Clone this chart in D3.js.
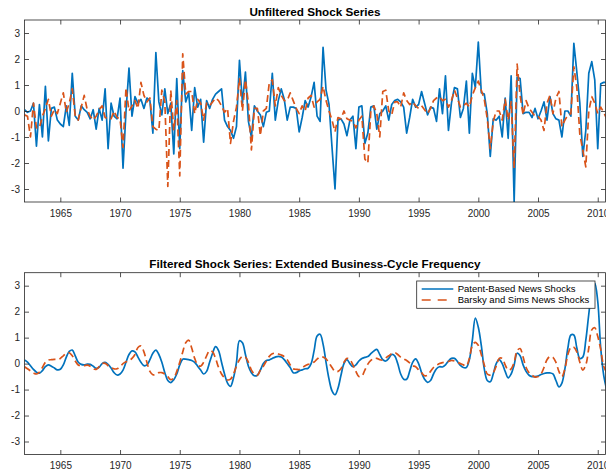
<!DOCTYPE html>
<html>
<head>
<meta charset="utf-8">
<script src="https://cdn.jsdelivr.net/npm/d3@7"></script>
<style>
  body { margin: 0; background: #fff; }
  svg text { font-family: "Liberation Sans", Arial, Helvetica, sans-serif; }
</style>
</head>
<body>
<svg id="chart" width="606" height="473"></svg>
<script>
// Quarterly observations, 1962Q1 .. 2010Q4
const startYear = 1962;

// Unfiltered patent-based news shocks
const patentRaw = [
  0.05, -0.05, 0.0, 0.3,     -1.35, 0.25, -1.0, 0.95,   -1.15, 0.1, 0.15, -0.35,
  -0.5, -0.6, 0.2, -0.55,    1.45, -0.2, -0.35, 0.2,    0.05, -0.05, -0.3, 0.05,
  -0.7, 0.1, -0.35, 0.85,    -1.45, 0.3, -0.2, -0.3,    0.5, -2.2, 0.0, 1.65,
  -0.2, 0.55, 0.3, 0.45,     0.1, 0.5, 0.4, -0.85,      2.25, 0.35, -0.15, 0.85,
  -0.1, 0.3, -1.65, 1.25,    -1.45, 1.55, 0.35, 0.7,    -0.75, 0.9, 0.15, 0.45,
  -1.2, 0.4, 0.1, 0.45,      0.65, 0.75, 0.85, -0.35,   -0.6, -0.75, -1.05, -0.6,
  1.95, 0.3, 1.5, -0.4,      -1.0, 0.2, 0.0, -0.15,     -0.6, -0.05, 0.0, 1.45,
  -0.35, 0.4, 0.85, 0.45,    -0.35, 0.15, 0.15, 0.1,    -0.8, -0.25, 0.4, 0.15,
  0.55, 1.1, -0.2, -0.4,     2.45, 0.8, 0.25, -1.4,     -3.0, -0.35, -0.3, -0.5,
  -0.95, -0.35, -0.2, -1.45, 0.15, 0.2, -1.25, -0.85,   0.15, 0.2, -0.7, -0.1,
  0.0, 0.2, -0.35, 0.25,     0.4, 0.45, 0.35, 0.15,     -0.85, -0.25, 0.45, 0.15,
  0.25, 0.75, 0.3, -0.15,    0.15, 0.1, -0.4, 0.85,     -0.1, 1.35, -0.75, 0.3,
  0.9, 0.85, -0.25, 0.1,     1.15, -0.85, 1.45, 0.9,    2.65, 0.7, 0.65, -0.1,
  -1.75, -0.3, -0.35, -0.2,  -1.0, 0.5, -1.05, 1.35,    -3.5, 1.3, 1.25, -0.1,
  -0.05, -0.05, -0.25, 0.1,  -0.3, 0.0, 0.35, -0.35,    0.55, -0.1, -0.3, -0.35,
  -1.0, 0.0, 0.0, -0.2,      2.6, 1.5, 0.3, -1.75,      -0.75, 1.45, 1.9, 1.2,
  -1.45, 1.05, 1.1, 1.1
];

// Unfiltered Barsky and Sims news shocks
const bsRaw = [
  -0.15, -0.2, -1.0, 0.3,    -0.65, -0.65, -0.2, 0.1,   0.45, -0.2, 0.05, -0.1,
  0.3, 0.7, -0.05, 0.3,      0.85, -0.2, -0.35, 0.15,   0.6, 0.05, -0.2, -0.35,
  -0.2, 0.05, 0.2, -0.25,    -0.3, -0.3, 0.0, -0.25,    -0.3, -1.4, 0.9, 0.0,
  0.2, 0.4, 0.1, 1.1,        0.6, 0.35, 0.5, -0.6,      -0.7, -0.75, 0.8, 0.35,
  -2.9, 0.8, -0.75, 0.4,     -2.5, 2.2, 0.65, 0.75,     0.75, -0.1, 0.45, 0.3,
  -0.35, 0.3, 0.2, 0.35,     0.5, 0.4, 0.2, -0.05,      0.1, -1.25, -0.4, 0.15,
  1.25, 0.0, 1.2, 0.3,       -1.5, 0.1, 0.1, -0.95,     0.0, 0.1, 1.1, 1.2,
  0.2, 0.9, 0.6, 0.4,        0.4, 0.7, 0.4, 0.1,        -0.1, 0.2, 0.0, 0.5,
  0.6, 0.15, 0.35, 0.45,     0.95, 0.4, 0.0, -0.35,     -0.8, -0.25, -0.3, 0.0,
  -0.3, -0.35, -0.4, -0.65,  -0.35, -0.2, -1.85, -2.0,  0.0, 0.2, -0.1, -1.0,
  0.75, 0.8, 0.0, -0.15,     0.35, 0.35, 0.15, 0.7,     0.4, 0.25, 0.35, 0.2,
  0.1, 0.2, 0.05, -0.1,      0.1, 0.4, 0.5, 0.55,       0.4, 0.45, 0.15, 0.4,
  0.8, 0.5, 0.15, 0.2,       0.3, 0.15, 0.6, 0.9,       1.15, 0.8, 0.45, -0.3,
  -1.45, -0.4, 0.0, 0.0,     -0.35, 0.45, -0.35, 0.35,  -2.2, 1.8, 0.6, -0.15,
  0.4, 0.1, -0.05, -0.2,     -0.2, -0.35, -0.75, 0.3,   0.6, -0.1, 0.5, 0.75,
  -0.6, -0.35, -0.15, -0.1,  1.7, 0.9, -0.9, -1.5,      -2.15, 0.0, 0.55, 0.3,
  -0.1, 0.15, -0.05, -0.3
];

// Band-pass filtered patent-based news shocks
const patentFilt = [
  0.14, 0.06, -0.08, -0.22,  -0.33, -0.37, -0.27, -0.12, -0.05, -0.1, -0.17, -0.24,
  -0.22, -0.05, 0.25, 0.47,  0.52, 0.3, 0.05, -0.03,    -0.05, -0.02, -0.03, -0.1,
  -0.18, -0.14, 0.0, 0.05,   -0.03, -0.17, -0.35, -0.44, -0.4, -0.25, 0.05, 0.35,
  0.49, 0.45, 0.25, 0.05,    -0.08, -0.05, 0.15, 0.4,   0.52, 0.35, 0.05, -0.35,
  -0.65, -0.73, -0.62, -0.4, -0.05, 0.17, 0.17, 0.15,   0.12, 0.05, -0.1, -0.25,
  -0.4, -0.3, 0.05, 0.4,     0.65, 0.5, 0.05, -0.4,     -0.75, -0.88, -0.55, 0.05,
  0.88, 0.8, 0.35, -0.1,     -0.35, -0.47, -0.45, -0.25, 0.0, 0.12, 0.14, 0.2,
  0.25, 0.28, 0.25, 0.15,    0.0, -0.15, -0.35, -0.35,  -0.28, -0.24, -0.2, -0.18,
  0.0, 0.5, 1.06, 1.13,      0.75, 0.05, -0.6, -1.05,   -1.2, -0.95, -0.45, 0.0,
  0.15, 0.0, -0.12, -0.05,   0.1, 0.2, 0.24, 0.27,      0.38, 0.48, 0.55, 0.35,
  0.15, 0.1, 0.2, 0.35,      0.3, 0.0, -0.4, -0.6,      -0.6, -0.3, 0.05, 0.18,
  0.0, -0.35, -0.6, -0.72,   -0.65, -0.4, -0.2, -0.12,  -0.13, -0.05, 0.1, 0.2,
  0.2, 0.08, -0.07, -0.15,   -0.15, 0.15, 0.9, 1.75,    1.4, 0.7, -0.2, -0.65,
  -0.7, -0.4, 0.0, 0.15,     0.0, -0.3, -0.55, -0.4,    -0.05, 0.4, 0.3, -0.05,
  -0.3, -0.45, -0.5, -0.5,   -0.48, -0.42, -0.38, -0.36, -0.36, -0.4, -0.65, -0.9,
  -0.75, -0.2, 0.6, 1.1,     1.1, 0.6, 0.2, 0.25,       0.9, 1.9, 2.8, 3.1,
  2.4, 0.6, -0.45, -1.0
];

// Band-pass filtered Barsky and Sims news shocks
const bsFilt = [
  -0.12, -0.2, -0.28, -0.36, -0.4, -0.33, -0.15, 0.05,  0.14, 0.15, 0.16, 0.16,
  0.2, 0.3, 0.4, 0.42,       0.3, 0.1, -0.05, -0.07,    -0.08, -0.06, -0.1, -0.2,
  -0.22, -0.12, 0.0, 0.01,   -0.08, -0.15, -0.2, -0.2,  -0.12, 0.0, 0.07, 0.11,
  0.2, 0.35, 0.62, 0.68,     0.45, 0.05, -0.3, -0.43,   -0.42, -0.35, -0.35, -0.4,
  -0.5, -0.62, -0.55, -0.3,  0.05, 0.45, 0.8, 0.9,      0.6, 0.2, -0.05, -0.1,
  0.05, 0.3, 0.5, 0.45,      0.2, -0.15, -0.4, -0.55,   -0.63, -0.6, -0.4, -0.1,
  0.15, 0.28, 0.25, 0.05,    -0.25, -0.4, -0.45, -0.25, -0.1, 0.1, 0.28, 0.38,
  0.4, 0.37, 0.33, 0.27,     0.15, -0.05, -0.2, -0.22,  -0.23, -0.16, -0.08, -0.03,
  0.0, 0.06, 0.17, 0.25,     0.25, 0.18, 0.02, -0.15,   -0.3, -0.3, -0.2, 0.05,
  0.2, 0.15, -0.05, -0.3,    -0.5, -0.48, -0.25, -0.02, 0.12, 0.2, 0.2, 0.15,
  0.14, 0.22, 0.3, 0.38,     0.42, 0.35, 0.25, 0.18,    0.12, 0.03, -0.08, -0.12,
  -0.24, -0.35, -0.47, -0.45, -0.3, -0.15, -0.07, 0.0,  0.04, 0.06, 0.08, 0.12,
  0.1, 0.05, 0.0, -0.05,     -0.09, 0.2, 0.7, 0.82,     0.7, 0.35, -0.05, -0.4,
  -0.44, -0.35, -0.1, 0.2,   0.2, -0.05, -0.25, -0.2,   0.05, 0.5, 0.58, 0.25,
  -0.15, -0.35, -0.45, -0.52, -0.5, -0.4, -0.15, 0.15,  0.27, 0.24, 0.05, -0.3,
  -0.5, -0.2, 0.35, 0.62,    0.63, 0.45, 0.05, -0.25,   -0.05, 0.6, 1.3, 1.38,
  1.05, 0.55, -0.1, -0.35
];

const xTickValues = [1965, 1970, 1975, 1980, 1985, 1990, 1995, 2000, 2005, 2010];
const yTickValues = [-3, -2, -1, 0, 1, 2, 3];
const seriesNames = ["Patent-Based News Shocks", "Barsky and Sims News Shocks"];
const seriesColors = ["#0072BD", "#D95319"];
const titles = [
  "Unfiltered Shock Series",
  "Filtered Shock Series: Extended Business-Cycle Frequency"
];

const dates = patentRaw.map((_, i) => startYear + i / 4);

const svg = d3.select("#chart");
const left = 24.5, right = 605.5;
const x = d3.scaleLinear().domain([1962, 2010.65]).range([left, right]);

const panels = [
  { title: titles[0], top: 20, bottom: 202, data: [patentRaw, bsRaw], curve: d3.curveLinear },
  { title: titles[1], top: 272.7, bottom: 454.5, data: [patentFilt, bsFilt], curve: d3.curveCatmullRom.alpha(0.5) }
];

const axisColor = "#262626";

panels.forEach((p, pi) => {
  const y = d3.scaleLinear().domain([-3.5, 3.5]).range([p.bottom, p.top]);
  const g = svg.append("g");

  const clipId = "clip" + pi;
  svg.append("clipPath").attr("id", clipId)
    .append("rect")
    .attr("x", left).attr("y", p.top)
    .attr("width", right - left).attr("height", p.bottom - p.top);

  // white plotting area
  g.append("rect")
    .attr("x", left).attr("y", p.top)
    .attr("width", right - left).attr("height", p.bottom - p.top)
    .attr("fill", "#fff");

  const line = d3.line()
    .x((d, i) => x(dates[i]))
    .y(d => y(d))
    .curve(p.curve);

  const plot = g.append("g").attr("clip-path", `url(#${clipId})`);
  p.data.forEach((series, si) => {
    plot.append("path")
      .datum(series)
      .attr("fill", "none")
      .attr("stroke", seriesColors[si])
      .attr("stroke-width", 1.7)
      .attr("stroke-linejoin", "round")
      .attr("stroke-dasharray", si === 1 ? "7,4" : null)
      .attr("d", line);
  });

  // axes (ticks point inward, box on all four sides)
  const tickLen = 4.5;
  const styleAxis = sel => {
    sel.select(".domain").remove();
    sel.selectAll(".tick line").attr("stroke", axisColor).attr("stroke-width", 0.8);
    sel.selectAll(".tick text")
      .attr("fill", axisColor)
      .style("font-size", "10px")
      .style("font-family", '"Liberation Sans", Arial, sans-serif');
  };

  g.append("g").attr("transform", `translate(0,${p.bottom})`)
    .call(d3.axisBottom(x).tickValues(xTickValues).tickSize(-tickLen)
      .tickPadding(7.6).tickFormat(d3.format("d")))
    .call(styleAxis);
  g.append("g").attr("transform", `translate(0,${p.top})`)
    .call(d3.axisTop(x).tickValues(xTickValues).tickSize(-tickLen).tickFormat(""))
    .call(styleAxis);
  g.append("g").attr("transform", `translate(${left},0)`)
    .call(d3.axisLeft(y).tickValues(yTickValues).tickSize(-tickLen)
      .tickPadding(4.5).tickFormat(d => String(d)))
    .call(styleAxis);
  g.append("g").attr("transform", `translate(${right},0)`)
    .call(d3.axisRight(y).tickValues(yTickValues).tickSize(-tickLen).tickFormat(""))
    .call(styleAxis);

  // box
  g.append("rect")
    .attr("x", left).attr("y", p.top)
    .attr("width", right - left).attr("height", p.bottom - p.top)
    .attr("fill", "none").attr("stroke", axisColor).attr("stroke-width", 0.8);

  // title
  g.append("text")
    .attr("x", (left + right) / 2)
    .attr("y", p.top - 4.5)
    .attr("text-anchor", "middle")
    .style("font-weight", "bold")
    .style("font-size", "11.7px")
    .attr("fill", "#000")
    .text(p.title);

  // legend in the filtered panel
  if (pi === 1) {
    const lg = g.append("g");
    const lx = 416.7, ly = 281, lw = 178.3, lh = 27.3;
    lg.append("rect")
      .attr("x", lx).attr("y", ly).attr("width", lw).attr("height", lh)
      .attr("fill", "#fff").attr("stroke", axisColor).attr("stroke-width", 0.8);
    seriesNames.forEach((name, si) => {
      const ry = ly + 8 + si * 11;
      lg.append("line")
        .attr("x1", lx + 5).attr("x2", lx + 36.6)
        .attr("y1", ry).attr("y2", ry)
        .attr("stroke", seriesColors[si])
        .attr("stroke-width", 1.7)
        .attr("stroke-dasharray", si === 1 ? "9,7" : null);
      lg.append("text")
        .attr("x", lx + 41)
        .attr("y", ry + 3.4)
        .style("font-size", "9.5px")
        .attr("fill", "#000")
        .text(name);
    });
  }
});
</script>
</body>
</html>
